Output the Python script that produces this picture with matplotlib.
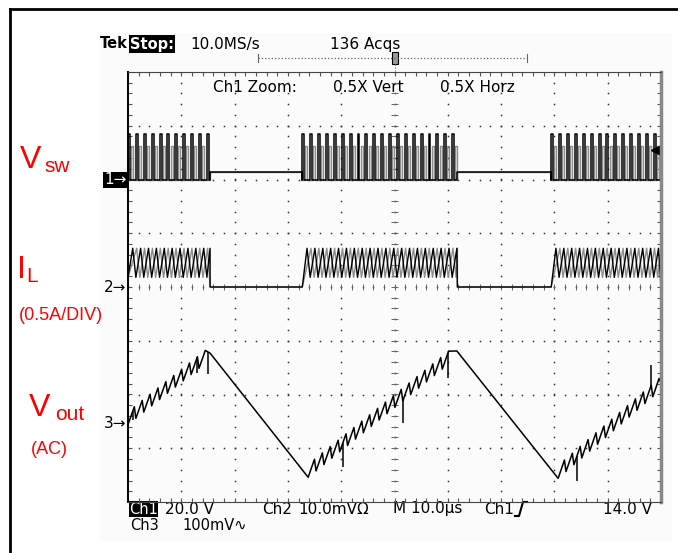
import numpy as np
import matplotlib.pyplot as plt
from matplotlib.patches import Rectangle

# ---- values ----
# x in divisions (10 us/div, 10 div), y in divisions (8 div, 0 = centre)
burst_start = [0.0, 3.27, 7.94]
burst_end = [1.54, 6.18, 10.0]
sw_period = 0.148          # switching cycle, div
sw_duty = 0.25

vsw_low = 2.0              # Ch1 ground marker
vsw_high = [2.84, 2.62]    # black / grey acquisition
vsw_idle = 2.14

il_valley = 0.18
il_peak = 0.72

vout_t = [0.0, 1.54, 3.38, 6.17, 8.07, 10.0]
vout_v = [-2.44, -1.23, -3.42, -1.19, -3.44, -1.79]
vout_ripple = 0.24

spike_t = [0.09, 1.30, 1.51, 4.03, 5.16, 6.0, 8.42, 9.81]
spike_dv = [-0.17, -0.3, -0.4, -0.45, -0.42, -0.46, -0.45, 0.39]

ch_labels = ['1', '2', '3']
ch_marker_px = [180, 287, 424]


def vsw_trace(phase, high):
    xs, ys = [], []
    w = sw_duty * sw_period
    for i, (t0, t1) in enumerate(zip(burst_start, burst_end)):
        xs.append(t0)
        ys.append(vsw_low)
        t = t0 + phase * sw_period
        while t + w < t1:
            xs += [t, t, t + w, t + w]
            ys += [vsw_low, high, high, vsw_low]
            t += sw_period
        xs.append(t1)
        ys.append(vsw_low)
        if i + 1 < len(burst_start):
            xs += [t1, burst_start[i + 1]]
            ys += [vsw_idle, vsw_idle]
    return xs, ys


def il_trace(phase):
    xs, ys = [], []
    rise = 0.6 * sw_period
    for t0, t1 in zip(burst_start, burst_end):
        xs.append(t0)
        ys.append(il_valley if t0 == 0 else 0.0)
        t = t0 + phase * sw_period
        while t + sw_period < t1:
            xs += [t + rise, t + sw_period]
            ys += [il_peak, il_valley]
            t += sw_period
        xs += [min(t + rise, t1), t1]
        ys += [il_peak, 0.0]
    return xs, ys


def vout_trace():
    xs, ys = [], []
    for k in range(0, len(vout_t), 2):
        ta, tb = vout_t[k], vout_t[k + 1]
        t = ta
        while t + sw_period < tb:
            e0 = np.interp(t, vout_t, vout_v)
            e1 = np.interp(t + 0.8 * sw_period, vout_t, vout_v)
            xs += [t, t + 0.8 * sw_period]
            ys += [e0 - vout_ripple / 2, e1 + vout_ripple / 2]
            t += sw_period
        xs.append(tb)
        ys.append(vout_v[k + 1])
    return xs, ys


fig = plt.figure(figsize=(6.78, 5.53), dpi=100)

# background layer in pixel coords
bg = fig.add_axes([0, 0, 1, 1])
bg.set_xlim(0, 678)
bg.set_ylim(553, 0)
bg.axis('off')
bg.add_patch(Rectangle((100, 33), 572, 508, fc='#fbfbfb', ec='none'))
bg.plot([10, 678], [9, 9], color='k', lw=2)
bg.plot([10, 10], [9, 553], color='k', lw=2)

mono = 'DejaVu Sans'
fs = 11
bg.text(100, 44, 'Tek', fontsize=10.5, fontweight='bold', family=mono, va='center')
bg.text(130, 44, 'Stop:', fontsize=10.5, fontweight='bold', family=mono, va='center', color='white',
        bbox=dict(facecolor='black', edgecolor='none', pad=0.8))
bg.text(190, 44, '10.0MS/s', fontsize=fs, family=mono, va='center')
bg.text(330, 44, '136 Acqs', fontsize=fs, family=mono, va='center')

# trigger position bar
bg.plot([258, 527], [58, 58], ls=':', color='#666', lw=0.9)
bg.plot([258, 258], [54, 62], color='#666', lw=0.8)
bg.plot([527, 527], [54, 62], color='#666', lw=0.8)
bg.add_patch(Rectangle((392, 52), 6, 12, fc='#999', ec='k', lw=0.8))
bg.plot([395, 395], [64, 72], ls=':', color='#666', lw=0.8)

bg.text(213, 87, 'Ch1 Zoom:', fontsize=fs, family=mono, va='center')
bg.text(333, 87, '0.5X Vert', fontsize=fs, family=mono, va='center')
bg.text(440, 87, '0.5X Horz', fontsize=fs, family=mono, va='center')

# bottom status lines
bg.text(129, 509, 'Ch1', fontsize=10.5, family=mono, va='center', color='white',
        bbox=dict(facecolor='black', edgecolor='none', pad=0.2))
bg.text(165, 509, '20.0 V', fontsize=fs, family=mono, va='center')
bg.text(262, 509, 'Ch2', fontsize=fs, family=mono, va='center')
bg.text(298, 509, '10.0mVΩ', fontsize=fs, family=mono, va='center')
bg.text(393, 509, 'M 10.0µs', fontsize=fs, family=mono, va='center')
bg.text(484, 509, 'Ch1', fontsize=fs, family=mono, va='center')
bg.plot([515, 519, 523, 527], [516, 516, 502, 502], color='k', lw=1.5)
bg.text(603, 509, '14.0 V', fontsize=fs, family=mono, va='center')
bg.text(130, 526, 'Ch3', fontsize=10.5, family=mono, va='center')
bg.text(182, 526, '100mV∿', fontsize=10.5, family=mono, va='center')

# channel ground markers
for lab, py in zip(ch_labels, ch_marker_px):
    if lab == '1':
        bg.text(104, py, lab + '→', fontsize=11, family=mono, va='center', color='white',
                bbox=dict(facecolor='black', edgecolor='none', pad=0.5))
    else:
        bg.text(104, py, lab + '→', fontsize=11, family=mono, va='center')

# red annotations
red = '#ff0000'
lf = 'Liberation Sans'
bg.text(20, 160, 'V', fontsize=23, family=lf, color=red, va='center')
bg.text(44, 166, 'sw', fontsize=15, family=lf, color=red, va='center')
bg.text(17, 270, 'I', fontsize=23, family=lf, color=red, va='center')
bg.text(26, 276, 'L', fontsize=15, family=lf, color=red, va='center')
bg.text(19, 316, '(0.5A/DIV)', fontsize=13, family=lf, color=red, va='center')
bg.text(29, 408, 'V', fontsize=23, family=lf, color=red, va='center')
bg.text(55, 414, 'out', fontsize=15, family=lf, color=red, va='center')
bg.text(31, 450, '(AC)', fontsize=13, family=lf, color=red, va='center')

# graticule
ax = fig.add_axes([128 / 678, (553 - 502) / 553, 533 / 678, 430 / 553])
ax.set_facecolor('none')
ax.set_xlim(0, 10)
ax.set_ylim(-4, 4)
ax.set_xticks([])
ax.set_yticks([])
ax.spines['left'].set_linewidth(1.4)
ax.spines['right'].set_color('#888')
ax.spines['right'].set_linewidth(2.5)
ax.spines['top'].set_color('#444')
ax.spines['bottom'].set_color('#444')

minor_x = np.arange(0, 10.01, 0.2)
minor_y = np.arange(-4, 4.01, 0.2)
dot = dict(ls='none', marker='s', ms=1.1, mew=0, color='#333')
for gx in range(1, 10):
    ax.plot(np.full_like(minor_y, gx), minor_y, **dot)
for gy in range(-3, 4):
    ax.plot(minor_x, np.full_like(minor_x, gy), **dot)
ax.vlines(minor_x, -0.06, 0.06, color='#666', lw=0.7)
ax.hlines(minor_y, 4.94, 5.06, color='#666', lw=0.7)
ax.vlines(minor_x, 3.93, 4, color='#555', lw=0.8)
ax.vlines(minor_x, -4, -3.93, color='#555', lw=0.8)
ax.hlines(minor_y, 0, 0.07, color='#555', lw=0.8)
ax.hlines(minor_y, 9.93, 10, color='#555', lw=0.8)

# traces
gx_, gy_ = vsw_trace(0.4, vsw_high[1])
ax.plot(gx_, gy_, color='#8c8c8c', lw=1.0)
bx_, by_ = vsw_trace(0.0, vsw_high[0])
ax.plot(bx_, by_, color='black', lw=1.1)

gx_, gy_ = il_trace(0.5)
ax.plot(gx_, gy_, color='#8c8c8c', lw=1.0)
bx_, by_ = il_trace(0.0)
ax.plot(bx_, by_, color='black', lw=1.0)

vx, vy = vout_trace()
ax.plot(vx, vy, color='black', lw=1.1)
base = np.interp(spike_t, vx, vy)
ax.vlines(spike_t, base, base + np.array(spike_dv), color='black', lw=1.1)

ax.plot(9.9, 2.55, marker='<', ms=7, color='black', clip_on=False)

fig.savefig('out.png', dpi=100)
